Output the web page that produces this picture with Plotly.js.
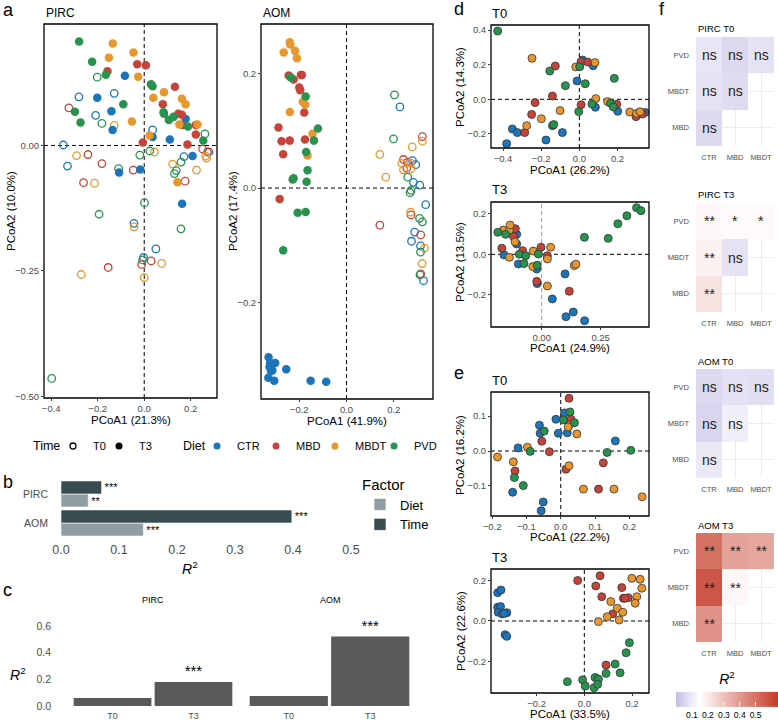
<!DOCTYPE html>
<html>
<head>
<meta charset="utf-8">
<script src="https://cdn.plot.ly/plotly-3.0.1.min.js"></script>
<style>
  html, body { margin: 0; padding: 0; background: #fff; }
  #chart { width: 778px; height: 722px; }
</style>
</head>
<body>
<div id="chart"></div>
<script>
// === Microbiome PCoA / PERMANOVA figure ===
const W = 778, H = 722;
const FONT = 'Liberation Sans, Arial, sans-serif';
const TICK_GREY = '#4d4d4d';

const DIETS = ['CTR', 'MBD', 'MBDT', 'PVD'];
const DIET_COLORS = { CTR: '#1b75bb', MBD: '#c6433a', MBDT: '#e8962e', PVD: '#27934f' };

// --- panel a: rows are [PCoA1, PCoA2, diet]
const pircT0 = [
  [-0.202, 0.136, 'PVD'], [-0.281, 0.097, 'CTR'], [-0.129, 0.104, 'CTR'], [-0.324, 0.075, 'MBD'],
  [-0.209, 0.060, 'CTR'], [-0.182, 0.044, 'PVD'], [-0.129, 0.040, 'MBDT'], [0.036, 0.031, 'CTR'],
  [0.261, 0.023, 'PVD'], [-0.348, 0.001, 'CTR'], [0.251, -0.007, 'MBD'], [0.272, -0.013, 'CTR'],
  [0.278, -0.013, 'MBD'], [0.264, -0.021, 'MBDT'], [0.268, -0.025, 'MBDT'], [0.024, -0.011, 'PVD'],
  [0.044, -0.013, 'MBDT'], [-0.019, -0.019, 'PVD'], [0.171, -0.022, 'CTR'], [-0.291, -0.020, 'MBDT'],
  [-0.242, -0.018, 'MBD'], [-0.330, -0.041, 'CTR'], [-0.182, -0.036, 'MBD'], [-0.110, -0.046, 'PVD'],
  [-0.047, -0.049, 'MBD'], [0.158, -0.033, 'PVD'], [0.122, -0.037, 'MBDT'], [0.138, -0.050, 'PVD'],
  [0.130, -0.056, 'PVD'], [0.225, -0.049, 'MBDT'], [0.176, -0.071, 'MBD'], [-0.261, -0.074, 'MBD'],
  [-0.214, -0.075, 'MBDT'], [0.001, -0.114, 'PVD'], [-0.194, -0.137, 'PVD'], [-0.044, -0.155, 'CTR'],
  [-0.044, -0.162, 'MBDT'], [0.158, -0.166, 'PVD'], [0.050, -0.206, 'CTR'], [-0.003, -0.223, 'CTR'],
  [-0.007, -0.228, 'PVD'], [-0.011, -0.237, 'MBD'], [0.030, -0.230, 'MBD'], [0.075, -0.235, 'MBDT'],
  [-0.155, -0.243, 'MBD'], [-0.271, -0.257, 'MBDT'], [0.000, -0.263, 'MBDT'], [-0.398, -0.464, 'PVD']
];
const pircT3 = [
  [-0.280, 0.207, 'PVD'], [-0.135, 0.203, 'MBDT'], [-0.046, 0.185, 'MBDT'], [-0.224, 0.167, 'PVD'],
  [-0.152, 0.175, 'MBDT'], [-0.030, 0.162, 'MBD'], [0.007, 0.160, 'MBD'], [-0.158, 0.148, 'MBD'],
  [-0.165, 0.141, 'PVD'], [-0.083, 0.139, 'CTR'], [-0.026, 0.137, 'MBDT'], [0.029, 0.122, 'PVD'],
  [0.036, 0.118, 'PVD'], [0.132, 0.117, 'MBD'], [0.085, 0.106, 'MBDT'], [-0.202, 0.095, 'CTR'],
  [0.039, 0.095, 'MBDT'], [0.162, 0.093, 'MBDT'], [0.080, 0.082, 'MBD'], [0.178, 0.082, 'MBDT'],
  [-0.090, 0.082, 'PVD'], [-0.298, 0.067, 'PVD'], [-0.141, 0.068, 'CTR'], [0.083, 0.066, 'PVD'],
  [0.085, 0.063, 'PVD'], [0.146, 0.063, 'MBD'], [0.162, 0.061, 'MBD'], [0.126, 0.057, 'PVD'],
  [0.106, 0.051, 'PVD'], [0.178, 0.053, 'CTR'], [-0.053, 0.048, 'MBDT'], [-0.274, 0.046, 'PVD'],
  [0.165, 0.041, 'MBD'], [0.151, 0.042, 'MBDT'], [0.188, 0.038, 'PVD'], [0.222, 0.041, 'MBD'],
  [0.229, 0.042, 'MBDT'], [-0.136, 0.031, 'CTR'], [0.023, 0.020, 'MBDT'], [0.036, 0.017, 'CTR'],
  [0.222, 0.022, 'MBD'], [0.110, 0.012, 'CTR'], [0.254, 0.010, 'PVD'], [-0.006, 0.006, 'MBD'],
  [0.186, 0.002, 'MBD'], [0.208, -0.021, 'CTR'], [-0.108, -0.054, 'CTR'], [-0.017, -0.048, 'CTR'],
  [0.143, -0.073, 'MBDT'], [0.163, -0.116, 'CTR']
];
const aomT0 = [
  [0.203, 0.163, 'PVD'], [0.226, 0.142, 'CTR'], [0.199, 0.086, 'PVD'], [0.321, 0.090, 'MBD'],
  [0.321, 0.082, 'MBDT'], [0.278, 0.072, 'MBDT'], [0.141, 0.059, 'MBDT'], [0.241, 0.050, 'MBD'],
  [0.279, 0.048, 'CTR'], [0.234, 0.043, 'MBDT'], [0.258, 0.045, 'MBD'], [0.293, 0.041, 'CTR'],
  [0.271, 0.044, 'MBDT'], [0.241, 0.032, 'MBDT'], [0.255, 0.035, 'MBD'], [0.273, 0.034, 'MBDT'],
  [0.166, 0.019, 'MBDT'], [0.259, 0.019, 'PVD'], [0.283, 0.010, 'CTR'], [0.310, 0.005, 'CTR'],
  [0.273, -0.004, 'PVD'], [0.269, -0.008, 'PVD'], [0.335, -0.029, 'CTR'], [0.271, -0.042, 'MBDT'],
  [0.273, -0.047, 'MBD'], [0.309, -0.053, 'PVD'], [0.321, -0.059, 'PVD'], [0.141, -0.065, 'MBD'],
  [0.288, -0.077, 'CTR'], [0.314, -0.082, 'MBD'], [0.275, -0.093, 'CTR'], [0.313, -0.101, 'CTR'],
  [0.330, -0.105, 'MBDT'], [0.313, -0.112, 'PVD'], [0.320, -0.132, 'MBDT'], [0.311, -0.152, 'PVD'],
  [0.314, -0.150, 'MBD'], [0.326, -0.162, 'CTR']
];
const aomT3 = [
  [-0.240, 0.255, 'MBDT'], [-0.238, 0.251, 'MBDT'], [-0.266, 0.237, 'MBDT'], [-0.218, 0.240, 'MBDT'],
  [-0.210, 0.227, 'MBDT'], [-0.245, 0.197, 'MBD'], [-0.237, 0.194, 'PVD'], [-0.224, 0.190, 'MBD'],
  [-0.193, 0.198, 'MBD'], [-0.189, 0.198, 'MBD'], [-0.200, 0.176, 'MBD'], [-0.196, 0.171, 'MBD'],
  [-0.173, 0.160, 'PVD'], [-0.185, 0.151, 'MBDT'], [-0.175, 0.146, 'MBDT'], [-0.240, 0.133, 'MBDT'],
  [-0.179, 0.132, 'MBD'], [-0.288, 0.106, 'MBD'], [-0.121, 0.104, 'PVD'], [-0.144, 0.095, 'MBDT'],
  [-0.275, 0.082, 'MBD'], [-0.240, 0.083, 'MBD'], [-0.176, 0.085, 'MBD'], [-0.138, 0.083, 'PVD'],
  [-0.171, 0.063, 'PVD'], [-0.268, 0.059, 'MBD'], [-0.165, 0.057, 'MBDT'], [-0.165, 0.031, 'PVD'],
  [-0.224, 0.017, 'PVD'], [-0.228, 0.015, 'PVD'], [-0.169, 0.011, 'PVD'], [-0.283, -0.019, 'MBD'],
  [-0.207, -0.043, 'PVD'], [-0.173, -0.042, 'PVD'], [-0.268, -0.109, 'PVD'],
  [-0.330, -0.296, 'CTR'], [-0.323, -0.306, 'CTR'], [-0.302, -0.306, 'CTR'], [-0.326, -0.313, 'CTR'],
  [-0.314, -0.319, 'CTR'], [-0.320, -0.320, 'CTR'], [-0.255, -0.317, 'CTR'], [-0.331, -0.332, 'CTR'],
  [-0.306, -0.337, 'CTR'], [-0.152, -0.337, 'CTR'], [-0.086, -0.339, 'CTR']
];

// --- panels d (PIRC) and e (AOM): PCoA within each time point
const dT0 = [
  [-0.428, 0.394, 'PVD'], [-0.248, 0.237, 'MBDT'], [-0.126, 0.192, 'MBD'], [-0.155, 0.163, 'PVD'],
  [-0.019, 0.187, 'MBDT'], [0.002, 0.188, 'PVD'], [0.017, 0.227, 'CTR'], [0.009, 0.217, 'MBD'],
  [0.044, 0.215, 'MBD'], [0.082, 0.212, 'MBDT'], [0.072, 0.194, 'CTR'], [-0.012, 0.106, 'CTR'],
  [0.031, 0.090, 'PVD'], [-0.073, 0.079, 'PVD'], [0.183, 0.121, 'PVD'], [-0.141, 0.019, 'MBD'],
  [0.086, 0.004, 'MBDT'], [-0.232, -0.019, 'MBD'], [0.009, -0.031, 'MBD'], [0.066, -0.027, 'PVD'],
  [0.084, -0.046, 'CTR'], [-0.101, -0.065, 'MBDT'], [-0.003, -0.071, 'PVD'], [-0.250, -0.087, 'MBD'],
  [-0.199, -0.112, 'MBDT'], [0.148, -0.013, 'MBDT'], [0.164, -0.023, 'PVD'], [0.196, -0.029, 'MBD'],
  [0.178, -0.044, 'PVD'], [0.201, -0.069, 'CTR'], [0.264, -0.073, 'MBDT'], [-0.141, -0.152, 'PVD'],
  [-0.134, -0.146, 'PVD'], [-0.276, -0.152, 'MBDT'], [-0.286, -0.192, 'MBD'], [-0.351, -0.171, 'CTR'],
  [-0.325, -0.192, 'CTR'], [-0.089, -0.192, 'CTR'], [-0.175, -0.235, 'CTR'], [-0.381, -0.256, 'CTR'],
  [0.300, -0.081, 'MBDT'], [0.297, -0.100, 'MBD'], [0.318, -0.072, 'MBDT'], [0.345, -0.076, 'CTR'],
  [0.330, -0.085, 'MBD']
];
const dT3 = [
  [0.402, 0.231, 'PVD'], [0.421, 0.216, 'PVD'], [0.361, 0.191, 'PVD'], [0.323, 0.151, 'PVD'],
  [0.181, 0.084, 'PVD'], [0.282, 0.079, 'PVD'], [-0.186, 0.109, 'PVD'], [-0.163, 0.120, 'MBDT'],
  [-0.137, 0.120, 'MBDT'], [-0.134, 0.145, 'MBDT'], [-0.112, 0.127, 'MBD'], [-0.153, 0.099, 'PVD'],
  [-0.106, 0.099, 'CTR'], [-0.120, 0.089, 'MBD'], [-0.113, 0.062, 'MBDT'], [-0.169, 0.030, 'MBD'],
  [-0.106, 0.051, 'CTR'], [-0.003, 0.035, 'MBD'], [0.038, 0.035, 'MBDT'], [-0.160, -0.003, 'CTR'],
  [-0.137, -0.015, 'MBDT'], [-0.081, 0.018, 'MBD'], [-0.036, 0.016, 'MBDT'], [-0.095, 0.000, 'PVD'],
  [-0.068, -0.007, 'PVD'], [-0.014, 0.001, 'PVD'], [0.024, -0.007, 'MBD'], [0.024, -0.023, 'MBDT'],
  [-0.099, -0.048, 'CTR'], [-0.075, -0.046, 'PVD'], [-0.038, -0.061, 'MBDT'], [-0.019, -0.054, 'PVD'],
  [-0.021, -0.073, 'CTR'], [0.138, -0.056, 'MBDT'], [0.145, -0.049, 'MBDT'], [0.099, -0.097, 'CTR'],
  [-0.021, -0.134, 'MBD'], [-0.019, -0.145, 'CTR'], [0.024, -0.157, 'MBDT'], [0.117, -0.183, 'MBD'],
  [0.045, -0.221, 'CTR'], [0.103, -0.309, 'CTR'], [0.134, -0.286, 'CTR'], [0.182, -0.329, 'CTR']
];
const eT0 = [
  [0.024, 0.151, 'MBD'], [0.011, 0.109, 'CTR'], [0.027, 0.112, 'PVD'], [0.008, 0.089, 'PVD'],
  [0.030, 0.091, 'MBD'], [0.040, 0.081, 'PVD'], [-0.014, 0.091, 'CTR'], [0.025, 0.074, 'MBDT'],
  [0.022, 0.069, 'MBDT'], [-0.062, 0.074, 'CTR'], [-0.048, 0.057, 'PVD'], [-0.060, 0.051, 'CTR'],
  [-0.007, 0.051, 'CTR'], [0.019, 0.052, 'CTR'], [0.047, 0.049, 'MBDT'], [-0.055, 0.028, 'MBD'],
  [-0.124, 0.009, 'CTR'], [-0.097, 0.011, 'MBDT'], [-0.089, -0.001, 'PVD'], [-0.033, -0.002, 'MBD'],
  [0.159, 0.029, 'CTR'], [0.135, -0.004, 'PVD'], [0.204, 0.002, 'PVD'], [-0.184, -0.017, 'MBDT'],
  [-0.138, -0.031, 'MBDT'], [0.124, -0.034, 'MBD'], [0.024, -0.042, 'MBDT'], [0.015, -0.052, 'MBD'],
  [-0.133, -0.057, 'MBD'], [-0.135, -0.076, 'PVD'], [-0.109, -0.099, 'PVD'], [-0.140, -0.118, 'CTR'],
  [0.066, -0.109, 'MBDT'], [0.110, -0.109, 'MBD'], [0.155, -0.109, 'MBDT'], [-0.051, -0.146, 'CTR'],
  [-0.057, -0.171, 'CTR'], [0.237, -0.131, 'MBDT']
];
const eT3 = [
  [-0.363, 0.140, 'CTR'], [-0.349, 0.153, 'CTR'], [-0.363, 0.068, 'CTR'], [-0.351, 0.071, 'CTR'],
  [-0.361, 0.043, 'CTR'], [-0.344, 0.035, 'CTR'], [-0.325, 0.041, 'CTR'], [-0.336, 0.037, 'CTR'],
  [-0.332, -0.068, 'CTR'], [-0.325, -0.076, 'CTR'],
  [-0.028, 0.200, 'MBD'], [0.066, 0.224, 'MBD'], [0.048, 0.173, 'MBD'], [0.073, 0.120, 'MBD'],
  [0.059, -0.003, 'MBDT'], [0.096, 0.021, 'MBDT'], [0.119, 0.035, 'MBD'], [0.111, 0.096, 'MBDT'],
  [0.138, 0.063, 'MBDT'], [0.161, 0.043, 'MBDT'], [0.146, 0.005, 'MBDT'], [0.157, 0.165, 'MBD'],
  [0.164, 0.112, 'MBD'], [0.184, 0.115, 'MBD'], [0.170, 0.112, 'MBD'], [0.199, 0.211, 'MBDT'],
  [0.234, 0.206, 'MBDT'], [0.241, 0.162, 'MBDT'], [0.220, 0.120, 'MBDT'], [0.213, 0.088, 'MBDT'],
  [0.189, -0.107, 'PVD'], [0.175, -0.157, 'PVD'], [0.129, -0.213, 'PVD'], [0.091, -0.259, 'PVD'],
  [0.150, -0.256, 'PVD'], [0.091, -0.218, 'MBD'], [-0.071, -0.300, 'PVD'], [-0.007, -0.291, 'PVD'],
  [0.045, -0.279, 'PVD'], [0.059, -0.287, 'PVD'], [0.004, -0.322, 'PVD'], [0.041, -0.330, 'PVD'],
  [0.056, -0.313, 'PVD']
];

// --- panel b: PERMANOVA R2 by factor
const bSites = ['PIRC', 'AOM'];
const bDietR2 = [0.047, 0.142];
const bDietSig = ['**', '***'];
const bTimeR2 = [0.070, 0.398];
const bTimeSig = ['***', '***'];

// --- panel c: R2 of diet within time point
const cTimes = ['T0', 'T3'];
const cPircR2 = [0.060, 0.180];
const cPircSig = ['', '***'];
const cAomR2 = [0.075, 0.520];
const cAomSig = ['', '***'];

// --- panel f: pairwise R2 (rows bottom to top)
const pairCols = ['CTR', 'MBD', 'MBDT'];
const pairRows = ['MBD', 'MBDT', 'PVD'];
const r2PircT0 = [[0.065, null, null], [0.085, 0.070, null], [0.090, 0.060, 0.085]];
const sigPircT0 = [['ns', '', ''], ['ns', 'ns', ''], ['ns', 'ns', 'ns']];
const r2PircT3 = [[0.220, null, null], [0.180, 0.085, null], [0.165, 0.160, 0.160]];
const sigPircT3 = [['**', '', ''], ['**', 'ns', ''], ['**', '*', '*']];
const r2AomT0 = [[0.100, null, null], [0.055, 0.110, null], [0.060, 0.080, 0.075]];
const sigAomT0 = [['ns', '', ''], ['ns', 'ns', ''], ['ns', 'ns', 'ns']];
const r2AomT3 = [[0.420, null, null], [0.570, 0.165, null], [0.500, 0.380, 0.370]];
const sigAomT3 = [['**', '', ''], ['**', '**', ''], ['**', '**', '**']];

// === helpers (pixel boxes -> paper fractions) ===
const hx = (a, b) => [a / W, b / W];
const vy = (top, bottom) => [1 - bottom / H, 1 - top / H];

function label(text, x, y, size, extra) {
  return Object.assign({
    text, x: x / W, y: 1 - y / H, xref: 'paper', yref: 'paper',
    showarrow: false, xanchor: 'left', yanchor: 'middle',
    font: { family: FONT, size, color: '#000' }
  }, extra || {});
}
const vtitle = (text, x, y) => label(text, x, y, 11.5, { textangle: -90, xanchor: 'center' });
const htitle = (text, x, y) => label(text, x, y, 11.5, { xanchor: 'center' });

function pcoaTraces(rows, ax, style) {
  return DIETS.map(d => {
    const pts = rows.filter(r => r[2] === d);
    let marker;
    if (style === 'open') marker = { symbol: 'circle-open', size: 7.5, color: DIET_COLORS[d], line: { width: 1.3 } };
    else if (style === 'filled') marker = { symbol: 'circle', size: 8.5, color: DIET_COLORS[d] };
    else marker = { symbol: 'circle', size: 8, color: DIET_COLORS[d], line: { color: '#333', width: 0.8 } };
    return {
      type: 'scatter', mode: 'markers', x: pts.map(r => r[0]), y: pts.map(r => r[1]),
      xaxis: 'x' + ax, yaxis: 'y' + ax, marker, showlegend: false, hoverinfo: 'skip'
    };
  });
}

function frameAxis(domain, range, dtick, fmt, anchor) {
  return {
    domain, range, dtick, tick0: 0, tickformat: fmt, anchor,
    showline: false, showgrid: false, zeroline: false,
    ticks: 'outside', ticklen: 2, tickcolor: '#333',
    tickfont: { family: FONT, size: 9.5, color: TICK_GREY }
  };
}

// black box round a panel plus dashed zero lines
function panelDecor(ax, vColor) {
  return [
    { type: 'line', layer: 'below', xref: 'x' + ax, yref: 'y' + ax + ' domain', x0: 0, x1: 0, y0: 0, y1: 1,
      line: { color: vColor || '#000', width: 1, dash: '4px,3px' } },
    { type: 'line', layer: 'below', xref: 'x' + ax + ' domain', yref: 'y' + ax, x0: 0, x1: 1, y0: 0, y1: 0,
      line: { color: '#000', width: 1, dash: '4px,3px' } },
    { type: 'rect', layer: 'above', xref: 'x' + ax + ' domain', yref: 'y' + ax + ' domain',
      x0: 0, x1: 1, y0: 0, y1: 1, line: { color: '#000', width: 1.3 }, fillcolor: 'rgba(0,0,0,0)' }
  ];
}

// === traces ===
let traces = [];
traces = traces.concat(pcoaTraces(pircT0, '', 'open'), pcoaTraces(pircT3, '', 'filled'));
traces = traces.concat(pcoaTraces(aomT0, '2', 'open'), pcoaTraces(aomT3, '2', 'filled'));
traces = traces.concat(pcoaTraces(dT0, '6'), pcoaTraces(dT3, '7'), pcoaTraces(eT0, '8'), pcoaTraces(eT3, '9'));

// legend-only entries for panel a (a blank last entry keeps the final label from being clipped)
const legendOnly = (name, legend, marker) => ({ type: 'scatter', mode: 'markers', x: [null], y: [null],
  name, legend, marker, hoverinfo: 'skip' });
const blankMarker = { symbol: 'circle', size: 1, color: 'rgba(0,0,0,0)' };
traces.push(legendOnly('T0', 'legend', { symbol: 'circle-open', size: 6, color: '#000', line: { width: 1.3 } }));
traces.push(legendOnly('T3', 'legend', { symbol: 'circle', size: 7, color: '#000' }));
traces.push(legendOnly(' ', 'legend', blankMarker));
DIETS.forEach(d => traces.push(legendOnly(d, 'legend2', { symbol: 'circle', size: 7, color: DIET_COLORS[d] })));
traces.push(legendOnly(' ', 'legend2', blankMarker));

// panel b
traces.push({ type: 'bar', orientation: 'h', name: 'Diet', y: bSites, x: bDietR2, xaxis: 'x3', yaxis: 'y3',
  width: 0.45, offset: -0.45, marker: { color: '#8e9ea3', line: { color: '#fff', width: 0.6 } },
  text: bDietSig, textposition: 'outside', constraintext: 'none', cliponaxis: false,
  textfont: { family: FONT, size: 11, color: '#000' }, legend: 'legend3', hoverinfo: 'skip' });
traces.push({ type: 'bar', orientation: 'h', name: 'Time', y: bSites, x: bTimeR2, xaxis: 'x3', yaxis: 'y3',
  width: 0.45, offset: 0, marker: { color: '#384b51', line: { color: '#fff', width: 0.6 } },
  text: bTimeSig, textposition: 'outside', constraintext: 'none', cliponaxis: false,
  textfont: { family: FONT, size: 11, color: '#000' }, legend: 'legend3', hoverinfo: 'skip' });

// panel c
[[cPircR2, cPircSig, '4'], [cAomR2, cAomSig, '5']].forEach(([vals, sig, ax]) => {
  traces.push({ type: 'bar', x: cTimes, y: vals, xaxis: 'x' + ax, yaxis: 'y' + ax, width: 0.96,
    marker: { color: '#595959' }, text: sig, textposition: 'outside', constraintext: 'none',
    cliponaxis: false, textfont: { family: FONT, size: 15, color: '#000' }, showlegend: false, hoverinfo: 'skip' });
});

// panel f
const heatPanels = [
  { ax: '10', z: r2PircT0, sig: sigPircT0, title: 'PIRC T0', top: 37 },
  { ax: '11', z: r2PircT3, sig: sigPircT3, title: 'PIRC T3', top: 203 },
  { ax: '12', z: r2AomT0, sig: sigAomT0, title: 'AOM T0', top: 369 },
  { ax: '13', z: r2AomT3, sig: sigAomT3, title: 'AOM T3', top: 533 }
];
heatPanels.forEach(p => traces.push({ type: 'heatmap', x: pairCols, y: pairRows, z: p.z,
  coloraxis: 'coloraxis', xaxis: 'x' + p.ax, yaxis: 'y' + p.ax, hoverinfo: 'skip' }));

// === layout ===
const legendRow = (x, ew) => ({ x: x / W, y: 1 - 446 / H, xanchor: 'left', yanchor: 'middle', orientation: 'h',
  entrywidth: ew, entrywidthmode: 'pixels', font: { family: FONT, size: 11 }, bgcolor: 'rgba(0,0,0,0)' });

const layout = {
  width: W, height: H, margin: { l: 0, r: 0, t: 0, b: 0, autoexpand: false },
  paper_bgcolor: '#fff', plot_bgcolor: 'rgba(0,0,0,0)',
  font: { family: FONT, color: '#000' },
  barmode: 'group',
  xaxis: frameAxis(hx(44, 217), [-0.431, 0.313], 0.2, '.1f', 'y'),
  yaxis: frameAxis(vy(24, 398), [-0.503, 0.242], 0.25, '.2f', 'x'),
  xaxis2: frameAxis(hx(261, 433), [-0.362, 0.366], 0.2, '.1f', 'y2'),
  yaxis2: frameAxis(vy(24, 399), [-0.369, 0.287], 0.2, '.1f', 'x2'),
  xaxis6: frameAxis(hx(491, 649), [-0.463, 0.365], 0.2, '.1f', 'y6'),
  yaxis6: frameAxis(vy(25, 148), [-0.281, 0.429], 0.2, '.1f', 'x6'),
  xaxis7: frameAxis(hx(491, 649), [-0.215, 0.455], 0.25, '.2f', 'y7'),
  yaxis7: frameAxis(vy(202, 327), [-0.360, 0.259], 0.2, '.1f', 'x7'),
  xaxis8: frameAxis(hx(491, 649), [-0.203, 0.257], 0.1, '.1f', 'y8'),
  yaxis8: frameAxis(vy(392, 516), [-0.186, 0.169], 0.1, '.1f', 'x8'),
  xaxis9: frameAxis(hx(491, 649), [-0.391, 0.271], 0.2, '.1f', 'y9'),
  yaxis9: frameAxis(vy(569, 693), [-0.356, 0.257], 0.2, '.1f', 'x9'),
  xaxis3: { domain: hx(61, 380), range: [0, 0.55], dtick: 0.1, tickformat: '.1f', anchor: 'y3',
    showgrid: false, zeroline: false, showline: false, ticks: '',
    tickfont: { family: FONT, size: 12.5, color: TICK_GREY } },
  yaxis3: { domain: vy(476.6, 540.4), type: 'category', categoryorder: 'array', categoryarray: ['AOM', 'PIRC'],
    range: [-0.6, 1.6], anchor: 'x3', showgrid: false, zeroline: false, showline: false, ticks: '',
    ticklabelstandoff: 12, tickfont: { family: FONT, size: 10.5, color: TICK_GREY } },
  xaxis4: { domain: hx(68, 238), type: 'category', range: [-0.55, 1.55], anchor: 'y4', showgrid: false,
    zeroline: false, showline: false, ticks: '', tickfont: { family: FONT, size: 9, color: TICK_GREY } },
  yaxis4: { domain: vy(615.2, 708.7), range: [-0.02, 0.68], tickvals: [0, 0.2, 0.4, 0.6], tickformat: '.1f',
    anchor: 'x4', showgrid: false, zeroline: false, showline: false, ticks: '', ticklabelstandoff: 16,
    tickfont: { family: FONT, size: 10.5, color: TICK_GREY } },
  xaxis5: { domain: hx(244, 415), type: 'category', range: [-0.55, 1.55], anchor: 'y5', showgrid: false,
    zeroline: false, showline: false, ticks: '', tickfont: { family: FONT, size: 9, color: TICK_GREY } },
  yaxis5: { domain: vy(615.2, 708.7), range: [-0.02, 0.68], anchor: 'x5', showgrid: false, zeroline: false,
    showline: false, showticklabels: false },
  coloraxis: {
    cmin: 0, cmax: 0.64,
    colorscale: [[0, '#c5bbe4'], [0.23, '#ffffff'], [1, '#c53a27']],
    colorbar: {
      orientation: 'h', x: 727 / W, xanchor: 'center', y: 1 - 674 / H, yanchor: 'top',
      len: 102, lenmode: 'pixels', thickness: 15, thicknessmode: 'pixels', xpad: 0, ypad: 0,
      outlinewidth: 0, tickvals: [0.1, 0.2, 0.3, 0.4, 0.5], ticks: 'inside', ticklen: 4, tickcolor: '#fff',
      tickangle: 0, tickfont: { family: FONT, size: 8.5, color: '#000' },
      title: { text: '<i>R</i><sup>2</sup>', side: 'top', font: { family: FONT, size: 14 } }
    }
  },
  legend: legendRow(53, 1),
  legend2: legendRow(197, 14),
  legend3: { x: 360 / W, y: 1 - 470 / H, xanchor: 'left', yanchor: 'top', orientation: 'v',
    title: { text: 'Factor', font: { family: FONT, size: 15 } }, traceorder: 'normal',
    font: { family: FONT, size: 13 }, bgcolor: 'rgba(0,0,0,0)' },
  shapes: [].concat(panelDecor(''), panelDecor('2'), panelDecor('6'), panelDecor('7', '#999'),
    panelDecor('8'), panelDecor('9')),
  annotations: []
};

heatPanels.forEach(p => {
  layout['xaxis' + p.ax] = { domain: hx(696, 774), type: 'category', categoryorder: 'array', categoryarray: pairCols,
    range: [-0.5, 2.5], anchor: 'y' + p.ax, showgrid: true, gridcolor: '#ececec', zeroline: false,
    showline: false, ticks: '', ticklabelstandoff: 5, tickfont: { family: FONT, size: 7.5, color: TICK_GREY } };
  layout['yaxis' + p.ax] = { domain: vy(p.top, p.top + 109), type: 'category', categoryorder: 'array',
    categoryarray: pairRows, range: [-0.5, 2.5], anchor: 'x' + p.ax, showgrid: true, gridcolor: '#ececec',
    zeroline: false, showline: false, ticks: '', ticklabelstandoff: 6,
    tickfont: { family: FONT, size: 7.5, color: TICK_GREY } };
  layout.annotations.push(label(p.title, 696, p.top - 8, 9.5));
  pairRows.forEach((r, i) => pairCols.forEach((c, j) => {
    if (!p.sig[i][j]) return;
    layout.annotations.push({ text: p.sig[i][j], x: c, y: r, xref: 'x' + p.ax, yref: 'y' + p.ax,
      showarrow: false, font: { family: FONT, size: 14, color: '#222' } });
  }));
});

layout.annotations.push(
  label('a', 1, 10, 18), label('b', 1, 482, 18), label('c', 1, 590, 18),
  label('d', 452, 9, 18), label('e', 452, 373, 18), label('f', 657, 9, 18),
  label('PIRC', 44, 13, 12), label('AOM', 261, 13, 12),
  label('T0', 490, 13, 13), label('T3', 490, 190, 13), label('T0', 490, 380, 13), label('T3', 490, 557, 13),
  label('Time', 31, 446, 12.5), label('Diet', 181, 446, 12.5),
  htitle('PCoA1 (21.3%)', 131, 420), vtitle('PCoA2 (10.0%)', 11, 211),
  htitle('PCoA1 (41.9%)', 347, 421), vtitle('PCoA2 (17.4%)', 233, 211),
  htitle('PCoA1 (26.2%)', 570, 170), vtitle('PCoA2 (14.3%)', 460, 87),
  htitle('PCoA1 (24.9%)', 570, 348), vtitle('PCoA2 (13.5%)', 460, 262),
  htitle('PCoA1 (22.2%)', 570, 537), vtitle('PCoA2 (16.2%)', 460, 455),
  htitle('PCoA1 (33.5%)', 570, 714), vtitle('PCoA2 (22.6%)', 461, 631),
  label('<i>R</i><sup>2</sup>', 190, 568, 14, { xanchor: 'center' }),
  label('<i>R</i><sup>2</sup>', 18, 674, 14, { xanchor: 'center' }),
  label('PIRC', 153, 600, 9, { xanchor: 'center' }), label('AOM', 330, 600, 9, { xanchor: 'center' })
);

Plotly.newPlot('chart', traces, layout, { displayModeBar: false, staticPlot: true });
</script>
</body>
</html>
